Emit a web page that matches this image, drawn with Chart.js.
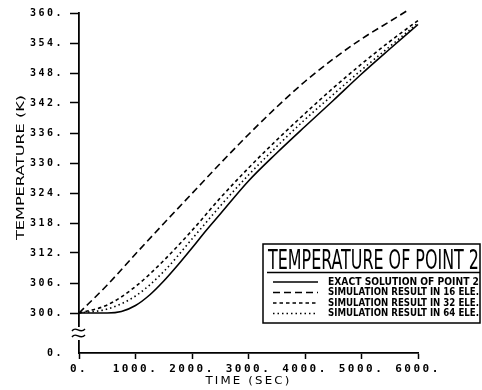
<!DOCTYPE html>
<html>
<head>
<meta charset="utf-8">
<script src="https://cdn.jsdelivr.net/npm/chart.js@4"></script>
<style>
  body { margin: 0; background: #fff; }
  #wrap { width: 482px; height: 390px; }
</style>
</head>
<body>
<div id="wrap"><canvas id="chart1" width="482" height="390"></canvas></div>
<script>
// data (time in s, temperature in K)
const timeExact = [0, 500, 750, 1000, 1250, 1500, 1750, 2000, 2250, 2500, 3000, 3500, 4000, 4500, 5000, 5500, 6000];
const tempExact = [300, 300, 300.3, 301.5, 303.6, 306.4, 309.6, 313, 316.5, 319.8, 326.4, 332, 337.3, 342.5, 347.8, 352.8, 357.7];

const time16 = [0, 500, 1000, 1500, 2000, 2500, 3000, 3500, 4000, 4500, 5000, 5500, 5800];
const temp16 = [300, 305.6, 311.8, 317.9, 323.9, 329.9, 335.7, 341.2, 346.3, 350.8, 354.8, 358.3, 360.4];

const time32 = [0, 500, 1000, 1500, 2000, 2500, 3000, 3500, 4000, 4500, 5000, 5500, 6000];
const temp32 = [300, 301.6, 305.3, 310.5, 316.5, 323, 329, 334.6, 339.9, 345, 349.8, 354.3, 358.5];

const time64 = [0, 500, 1000, 1500, 2000, 2500, 3000, 3500, 4000, 4500, 5000, 5500, 6000];
const temp64 = [300, 300.8, 303.4, 308.3, 314.8, 321.4, 327.6, 333.3, 338.7, 343.7, 348.6, 353.3, 358];

const seriesNames = ['EXACT SOLUTION OF POINT 2', 'SIMULATION RESULT IN 16 ELE.', 'SIMULATION RESULT IN 32 ELE.', 'SIMULATION RESULT IN 64 ELE.'];
const legendTitle = 'TEMPERATURE OF POINT 2';
const xTicks = [0, 1000, 2000, 3000, 4000, 5000, 6000];
const yTicks = [0, 300, 306, 312, 318, 324, 330, 336, 342, 348, 354, 360];
const xTitle = 'TIME (SEC)';
const yTitle = 'TEMPERATURE (K)';

const BREAK_POS = 292; // where the "0." tick sits below the axis break
const dashes = [[], [7, 4], [3.5, 3], [1.5, 3]];

function pts(xs, ys) {
    return xs.map((x, i) => ({ x: x, y: ys[i] }));
}

function fitText(ctx, text, x, y, width, font) {
    ctx.save();
    ctx.font = font;
    const w = ctx.measureText(text).width;
    ctx.translate(x, y);
    ctx.scale(width / w, 1);
    ctx.fillText(text, 0, 0);
    ctx.restore();
}

const extras = {
    id: 'extras',
    beforeDraw(chart) {
        chart.ctx.letterSpacing = '2.5px';
    },
    afterDraw(chart) {
        const ctx = chart.ctx;
        ctx.letterSpacing = '0px';
        const ys = chart.scales.y;
        const xs = chart.scales.x;
        const ax = chart.chartArea.left;

        // axis break
        const yb = (ys.getPixelForValue(300) + ys.getPixelForValue(BREAK_POS)) / 2;
        ctx.save();
        ctx.fillStyle = '#fff';
        ctx.fillRect(ax - 3, yb - 6, 6, 13);
        ctx.strokeStyle = '#000';
        ctx.lineWidth = 1.4;
        [-3, 3].forEach(off => {
            ctx.beginPath();
            ctx.moveTo(ax - 7, yb + off + 1);
            ctx.bezierCurveTo(ax - 3, yb + off - 5, ax + 1, yb + off + 5, ax + 6, yb + off - 1);
            ctx.stroke();
        });
        ctx.restore();

        // axis titles
        ctx.save();
        ctx.fillStyle = '#000';
        ctx.textBaseline = 'middle';
        ctx.textAlign = 'left';
        ctx.translate(21, 240);
        ctx.rotate(-Math.PI / 2);
        fitText(ctx, yTitle, 0, 0, 145, '11px "DejaVu Sans Condensed"');
        ctx.restore();

        ctx.save();
        ctx.fillStyle = '#000';
        ctx.textBaseline = 'middle';
        ctx.textAlign = 'left';
        ctx.letterSpacing = '2px';
        fitText(ctx, xTitle, (xs.left + xs.right) / 2 - 43, 381, 86, '11px "DejaVu Sans"');
        ctx.restore();

        // legend box
        const bx = 263, by = 244, bw = 217, bh = 79;
        ctx.save();
        ctx.fillStyle = '#fff';
        ctx.fillRect(bx, by, bw, bh);
        ctx.strokeStyle = '#000';
        ctx.lineWidth = 1.5;
        ctx.strokeRect(bx, by, bw, bh);
        ctx.fillStyle = '#000';
        ctx.textBaseline = 'alphabetic';
        ctx.textAlign = 'left';
        fitText(ctx, legendTitle, 268, 269, 211, '26px "DejaVu Sans Condensed"');
        ctx.beginPath();
        ctx.moveTo(267, 272.5);
        ctx.lineTo(480, 272.5);
        ctx.stroke();
        const rows = [282, 292.5, 303, 313.5];
        rows.forEach((ry, i) => {
            ctx.beginPath();
            ctx.setLineDash(dashes[i]);
            ctx.lineWidth = 1.5;
            ctx.moveTo(273, ry);
            ctx.lineTo(318, ry);
            ctx.stroke();
            ctx.setLineDash([]);
            ctx.textBaseline = 'middle';
            fitText(ctx, seriesNames[i], 328, ry, 151, 'bold 10px "DejaVu Sans Condensed"');
        });
        ctx.restore();
    }
};

const ctx1 = document.getElementById('chart1').getContext('2d');
const chart1 = new Chart(ctx1, {
    type: 'line',
    data: {
        datasets: [
            { label: seriesNames[0], data: pts(timeExact, tempExact), borderDash: dashes[0] },
            { label: seriesNames[1], data: pts(time16, temp16), borderDash: dashes[1] },
            { label: seriesNames[2], data: pts(time32, temp32), borderDash: dashes[2] },
            { label: seriesNames[3], data: pts(time64, temp64), borderDash: dashes[3] }
        ].map(d => Object.assign(d, {
            borderColor: '#000',
            borderWidth: 1.6,
            pointRadius: 0,
            fill: false,
            cubicInterpolationMode: 'monotone',
            clip: false
        }))
    },
    options: {
        responsive: false,
        animation: false,
        events: [],
        layout: { padding: { top: 13, right: 64, left: 0, bottom: 0 } },
        plugins: { legend: { display: false }, tooltip: { enabled: false } },
        scales: {
            x: {
                type: 'linear',
                min: 0,
                max: 6000,
                afterBuildTicks: s => { s.ticks = xTicks.map(v => ({ value: v })); },
                afterFit: s => { s.height = 37; },
                grid: { drawOnChartArea: false, tickLength: 6, tickColor: '#000', tickWidth: 1.5 },
                border: { color: '#000', width: 1.8 },
                ticks: {
                    color: '#000',
                    maxRotation: 0,
                    padding: 4,
                    font: { family: '"DejaVu Sans Mono"', size: 11, weight: 'bold' },
                    callback: v => v + '.'
                }
            },
            y: {
                type: 'linear',
                min: BREAK_POS,
                max: 360,
                afterBuildTicks: s => { s.ticks = yTicks.map(v => ({ value: v === 0 ? BREAK_POS : v })); },
                afterFit: s => { s.width = 79; },
                grid: {
                    drawOnChartArea: false,
                    tickLength: 9,
                    tickWidth: 1.5,
                    tickColor: c => (c.tick && c.tick.value === BREAK_POS) ? 'rgba(0,0,0,0)' : '#000'
                },
                border: { color: '#000', width: 1.8 },
                ticks: {
                    color: '#000',
                    padding: 6,
                    font: { family: '"DejaVu Sans Mono"', size: 10, weight: 'bold' },
                    callback: v => v === BREAK_POS ? '0.' : v + '.'
                }
            }
        }
    },
    plugins: [extras]
});
</script>
</body>
</html>
